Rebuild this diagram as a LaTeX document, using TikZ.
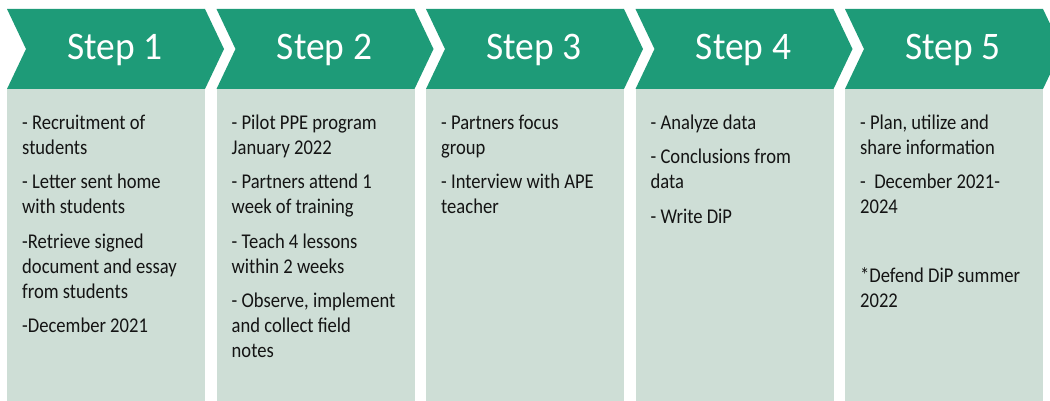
\documentclass[tikz,border=0pt]{standalone}
\usepackage{fontspec}
\setmainfont{Carlito}
\newfontfamily\notefont[FakeStretch=0.885]{Carlito}
\newfontfamily\headfont[FakeStretch=0.96]{Carlito}

\definecolor{stepgreen}{RGB}{30,155,120}
\definecolor{notegray}{RGB}{206,222,214}

\tikzset{
  chevron/.style={fill=stepgreen},
  notebox/.style={fill=notegray},
  steplabel/.style={anchor=base, text=white, inner sep=0pt,
    font=\headfont\fontsize{39}{47}\selectfont},
  notes/.style={anchor=north west, inner sep=0pt, align=left,
    text=black!92, font=\notefont\fontsize{21}{25}\selectfont}
}

\begin{document}
\begin{tikzpicture}[x=1pt,y=-1pt]
  \useasboundingbox (0,0) rectangle (1050,401);
  \clip (0,0) rectangle (1050,401);

  % five steps: grey column under a green chevron
  \foreach \i in {1,...,5}{
    \pgfmathsetmacro{\bx}{7+209.5*(\i-1)}
    \fill[notebox] (\bx,89) rectangle ++(198,312);
    \fill[chevron] (\bx,9) -- ++(198,0) -- ++(19,40) -- ++(-19,40)
      -- ++(-198,0) -- ++(19,-40) -- cycle;
    \node[steplabel] (step\i) at (\bx+108,59.3) {Step \i};
  }

  % what happens in each step
  \node[notes] (notes1) at (22,111.5) {\strut- Recruitment of\\ students\\[9.5pt]
    - Letter sent home\\ with students\\[9.5pt]
    -Retrieve signed\\ document and essay\\ from students\\[9.5pt]
    -December 2021};
  \node[notes] (notes2) at (231.5,111.5) {\strut- Pilot PPE program\\ January 2022\\[9.5pt]
    - Partners attend 1\\ week of training\\[9.5pt]
    - Teach 4 lessons\\ within 2 weeks\\[9.5pt]
    - Observe, implement\\ and collect field\\ notes};
  \node[notes] (notes3) at (441,111.5) {\strut- Partners focus\\ group\\[9.5pt]
    - Interview with APE\\ teacher};
  \node[notes] (notes4) at (650.5,111.5) {\strut- Analyze data\\[9.5pt]
    - Conclusions from\\ data\\[9.5pt]
    - Write DiP};
  \node[notes] (notes5) at (860,111.5) {\strut- Plan, utilize and\\ share information\\[9.5pt]
    - \ December 2021-\\ 2024\\[9.5pt]
    \mbox{}\\[9.5pt]
    *Defend DiP summer\\ 2022};
\end{tikzpicture}
\end{document}
